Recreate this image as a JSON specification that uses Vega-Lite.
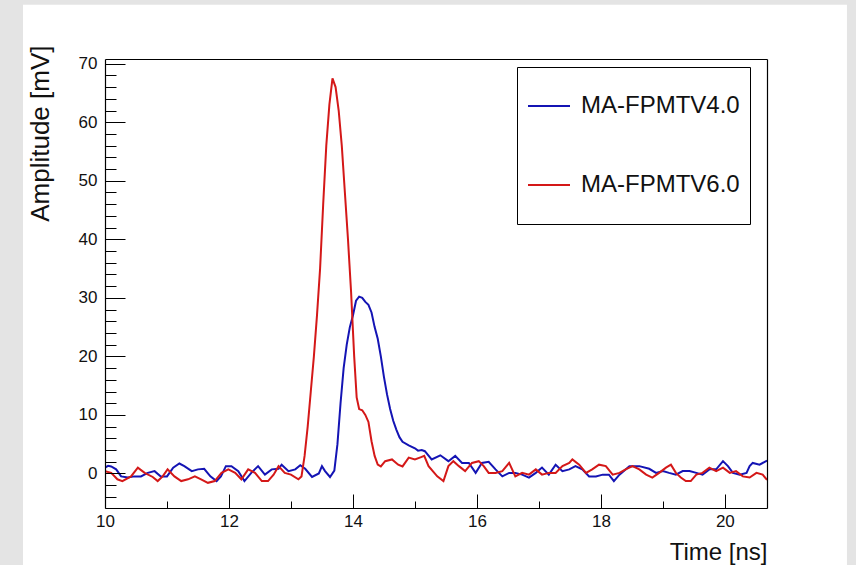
{
  "$schema": "https://vega.github.io/schema/vega-lite/v6.json",
  "width": 662,
  "height": 449,
  "autosize": {"type": "none"},
  "padding": {"left": 105, "top": 59, "right": 89, "bottom": 57},
  "background": "#e4e4e4",
  "config": {
    "font": "Liberation Sans",
    "view": {"stroke": null, "fill": null}
  },
  "resolve": {"axis": {"x": "independent", "y": "independent"}},
  "layer": [
    {
      "data": {"values": [{}]},
      "mark": {"type": "rect", "color": "#ffffff", "clip": false},
      "encoding": {
        "x": {
          "datum": 8.677,
          "type": "quantitative",
          "scale": {"domain": [10, 20.68], "nice": false, "zero": false},
          "axis": {"orient": "top", "title": null, "labels": false, "ticks": false, "grid": false, "domain": true, "domainColor": "#000000", "domainWidth": 1.2, "zindex": 1}
        },
        "x2": {"datum": 21.97},
        "y": {
          "datum": 80.05,
          "type": "quantitative",
          "scale": {"domain": [-5.9, 70.8], "nice": false, "zero": false},
          "axis": {"orient": "right", "title": null, "labels": false, "ticks": false, "grid": false, "domain": true, "domainColor": "#000000", "domainWidth": 1.2, "zindex": 1}
        },
        "y2": {"datum": -20}
      }
    },
    {
      "data": {
        "values": [
          {"t": 10.0, "v": 1.0, "s": "MA-FPMTV4.0"},
          {"t": 10.05, "v": 1.3, "s": "MA-FPMTV4.0"},
          {"t": 10.1, "v": 1.2, "s": "MA-FPMTV4.0"},
          {"t": 10.18, "v": 0.7, "s": "MA-FPMTV4.0"},
          {"t": 10.26, "v": -0.5, "s": "MA-FPMTV4.0"},
          {"t": 10.37, "v": -0.7, "s": "MA-FPMTV4.0"},
          {"t": 10.47, "v": -0.5, "s": "MA-FPMTV4.0"},
          {"t": 10.58, "v": -0.5, "s": "MA-FPMTV4.0"},
          {"t": 10.69, "v": 0.1, "s": "MA-FPMTV4.0"},
          {"t": 10.8, "v": 0.4, "s": "MA-FPMTV4.0"},
          {"t": 10.9, "v": -0.5, "s": "MA-FPMTV4.0"},
          {"t": 11.0, "v": -0.5, "s": "MA-FPMTV4.0"},
          {"t": 11.1, "v": 1.0, "s": "MA-FPMTV4.0"},
          {"t": 11.2, "v": 1.7, "s": "MA-FPMTV4.0"},
          {"t": 11.28, "v": 1.25, "s": "MA-FPMTV4.0"},
          {"t": 11.4, "v": 0.4, "s": "MA-FPMTV4.0"},
          {"t": 11.5, "v": 0.7, "s": "MA-FPMTV4.0"},
          {"t": 11.6, "v": 0.8, "s": "MA-FPMTV4.0"},
          {"t": 11.7, "v": -0.5, "s": "MA-FPMTV4.0"},
          {"t": 11.8, "v": -1.3, "s": "MA-FPMTV4.0"},
          {"t": 11.87, "v": -0.5, "s": "MA-FPMTV4.0"},
          {"t": 11.95, "v": 1.25, "s": "MA-FPMTV4.0"},
          {"t": 12.04, "v": 1.25, "s": "MA-FPMTV4.0"},
          {"t": 12.15, "v": 0.4, "s": "MA-FPMTV4.0"},
          {"t": 12.25, "v": -1.3, "s": "MA-FPMTV4.0"},
          {"t": 12.36, "v": 0.1, "s": "MA-FPMTV4.0"},
          {"t": 12.47, "v": 1.25, "s": "MA-FPMTV4.0"},
          {"t": 12.58, "v": -0.2, "s": "MA-FPMTV4.0"},
          {"t": 12.69, "v": 0.7, "s": "MA-FPMTV4.0"},
          {"t": 12.8, "v": 0.8, "s": "MA-FPMTV4.0"},
          {"t": 12.85, "v": 1.5, "s": "MA-FPMTV4.0"},
          {"t": 12.96, "v": 0.4, "s": "MA-FPMTV4.0"},
          {"t": 13.07, "v": 0.7, "s": "MA-FPMTV4.0"},
          {"t": 13.15, "v": 1.4, "s": "MA-FPMTV4.0"},
          {"t": 13.23, "v": 0.8, "s": "MA-FPMTV4.0"},
          {"t": 13.34, "v": -0.6, "s": "MA-FPMTV4.0"},
          {"t": 13.45, "v": 0.0, "s": "MA-FPMTV4.0"},
          {"t": 13.5, "v": 1.25, "s": "MA-FPMTV4.0"},
          {"t": 13.55, "v": 0.4, "s": "MA-FPMTV4.0"},
          {"t": 13.63, "v": -0.6, "s": "MA-FPMTV4.0"},
          {"t": 13.7, "v": 0.5, "s": "MA-FPMTV4.0"},
          {"t": 13.75, "v": 5, "s": "MA-FPMTV4.0"},
          {"t": 13.8, "v": 12, "s": "MA-FPMTV4.0"},
          {"t": 13.85, "v": 18, "s": "MA-FPMTV4.0"},
          {"t": 13.9, "v": 22, "s": "MA-FPMTV4.0"},
          {"t": 13.95, "v": 25, "s": "MA-FPMTV4.0"},
          {"t": 14.0, "v": 27, "s": "MA-FPMTV4.0"},
          {"t": 14.05, "v": 29.5, "s": "MA-FPMTV4.0"},
          {"t": 14.1, "v": 30.2, "s": "MA-FPMTV4.0"},
          {"t": 14.15, "v": 30, "s": "MA-FPMTV4.0"},
          {"t": 14.2, "v": 29.3, "s": "MA-FPMTV4.0"},
          {"t": 14.25, "v": 28.8, "s": "MA-FPMTV4.0"},
          {"t": 14.3, "v": 27.5, "s": "MA-FPMTV4.0"},
          {"t": 14.35, "v": 25, "s": "MA-FPMTV4.0"},
          {"t": 14.4, "v": 23, "s": "MA-FPMTV4.0"},
          {"t": 14.45, "v": 20, "s": "MA-FPMTV4.0"},
          {"t": 14.5, "v": 16.5, "s": "MA-FPMTV4.0"},
          {"t": 14.55, "v": 13.5, "s": "MA-FPMTV4.0"},
          {"t": 14.6, "v": 11, "s": "MA-FPMTV4.0"},
          {"t": 14.65, "v": 9, "s": "MA-FPMTV4.0"},
          {"t": 14.7, "v": 7.5, "s": "MA-FPMTV4.0"},
          {"t": 14.75, "v": 6.2, "s": "MA-FPMTV4.0"},
          {"t": 14.8, "v": 5.4, "s": "MA-FPMTV4.0"},
          {"t": 14.9, "v": 4.8, "s": "MA-FPMTV4.0"},
          {"t": 15.0, "v": 4.3, "s": "MA-FPMTV4.0"},
          {"t": 15.05, "v": 3.9, "s": "MA-FPMTV4.0"},
          {"t": 15.11, "v": 4.0, "s": "MA-FPMTV4.0"},
          {"t": 15.16, "v": 3.8, "s": "MA-FPMTV4.0"},
          {"t": 15.27, "v": 2.4, "s": "MA-FPMTV4.0"},
          {"t": 15.41, "v": 3.1, "s": "MA-FPMTV4.0"},
          {"t": 15.54, "v": 2.1, "s": "MA-FPMTV4.0"},
          {"t": 15.65, "v": 3.0, "s": "MA-FPMTV4.0"},
          {"t": 15.76, "v": 1.8, "s": "MA-FPMTV4.0"},
          {"t": 15.87, "v": 1.8, "s": "MA-FPMTV4.0"},
          {"t": 15.98, "v": 0.1, "s": "MA-FPMTV4.0"},
          {"t": 16.08, "v": 1.8, "s": "MA-FPMTV4.0"},
          {"t": 16.19, "v": 2.0, "s": "MA-FPMTV4.0"},
          {"t": 16.3, "v": 0.7, "s": "MA-FPMTV4.0"},
          {"t": 16.41, "v": -0.5, "s": "MA-FPMTV4.0"},
          {"t": 16.52, "v": 0.1, "s": "MA-FPMTV4.0"},
          {"t": 16.62, "v": 0.1, "s": "MA-FPMTV4.0"},
          {"t": 16.73, "v": -0.2, "s": "MA-FPMTV4.0"},
          {"t": 16.84, "v": -0.7, "s": "MA-FPMTV4.0"},
          {"t": 16.95, "v": 0.1, "s": "MA-FPMTV4.0"},
          {"t": 17.05, "v": 1.0, "s": "MA-FPMTV4.0"},
          {"t": 17.16, "v": -0.2, "s": "MA-FPMTV4.0"},
          {"t": 17.27, "v": 1.5, "s": "MA-FPMTV4.0"},
          {"t": 17.38, "v": 0.4, "s": "MA-FPMTV4.0"},
          {"t": 17.49, "v": 0.7, "s": "MA-FPMTV4.0"},
          {"t": 17.59, "v": 1.25, "s": "MA-FPMTV4.0"},
          {"t": 17.7, "v": 0.7, "s": "MA-FPMTV4.0"},
          {"t": 17.81, "v": -0.5, "s": "MA-FPMTV4.0"},
          {"t": 17.92, "v": -0.5, "s": "MA-FPMTV4.0"},
          {"t": 18.03, "v": -0.2, "s": "MA-FPMTV4.0"},
          {"t": 18.13, "v": -0.2, "s": "MA-FPMTV4.0"},
          {"t": 18.21, "v": -1.3, "s": "MA-FPMTV4.0"},
          {"t": 18.3, "v": -0.2, "s": "MA-FPMTV4.0"},
          {"t": 18.46, "v": 1.25, "s": "MA-FPMTV4.0"},
          {"t": 18.62, "v": 1.25, "s": "MA-FPMTV4.0"},
          {"t": 18.78, "v": 0.8, "s": "MA-FPMTV4.0"},
          {"t": 18.89, "v": 0.1, "s": "MA-FPMTV4.0"},
          {"t": 19.0, "v": 0.4, "s": "MA-FPMTV4.0"},
          {"t": 19.1, "v": 0.1, "s": "MA-FPMTV4.0"},
          {"t": 19.21, "v": -0.2, "s": "MA-FPMTV4.0"},
          {"t": 19.32, "v": 0.4, "s": "MA-FPMTV4.0"},
          {"t": 19.43, "v": 0.4, "s": "MA-FPMTV4.0"},
          {"t": 19.54, "v": 0.1, "s": "MA-FPMTV4.0"},
          {"t": 19.64, "v": -0.2, "s": "MA-FPMTV4.0"},
          {"t": 19.75, "v": 0.7, "s": "MA-FPMTV4.0"},
          {"t": 19.86, "v": 0.7, "s": "MA-FPMTV4.0"},
          {"t": 19.97, "v": 2.1, "s": "MA-FPMTV4.0"},
          {"t": 20.05, "v": 1.25, "s": "MA-FPMTV4.0"},
          {"t": 20.13, "v": 0.1, "s": "MA-FPMTV4.0"},
          {"t": 20.24, "v": -0.2, "s": "MA-FPMTV4.0"},
          {"t": 20.35, "v": 0.1, "s": "MA-FPMTV4.0"},
          {"t": 20.4, "v": 1.25, "s": "MA-FPMTV4.0"},
          {"t": 20.45, "v": 1.8, "s": "MA-FPMTV4.0"},
          {"t": 20.56, "v": 1.5, "s": "MA-FPMTV4.0"},
          {"t": 20.68, "v": 2.2, "s": "MA-FPMTV4.0"},
          {"t": 10.0, "v": 0.4, "s": "MA-FPMTV6.0"},
          {"t": 10.1, "v": 0.1, "s": "MA-FPMTV6.0"},
          {"t": 10.2, "v": -1.0, "s": "MA-FPMTV6.0"},
          {"t": 10.28, "v": -1.3, "s": "MA-FPMTV6.0"},
          {"t": 10.42, "v": -0.5, "s": "MA-FPMTV6.0"},
          {"t": 10.53, "v": 1.0, "s": "MA-FPMTV6.0"},
          {"t": 10.64, "v": 0.1, "s": "MA-FPMTV6.0"},
          {"t": 10.77, "v": -0.6, "s": "MA-FPMTV6.0"},
          {"t": 10.85, "v": -1.3, "s": "MA-FPMTV6.0"},
          {"t": 10.93, "v": -0.5, "s": "MA-FPMTV6.0"},
          {"t": 11.01, "v": 0.7, "s": "MA-FPMTV6.0"},
          {"t": 11.12, "v": -0.5, "s": "MA-FPMTV6.0"},
          {"t": 11.23, "v": -1.3, "s": "MA-FPMTV6.0"},
          {"t": 11.34, "v": -1.0, "s": "MA-FPMTV6.0"},
          {"t": 11.45, "v": -0.5, "s": "MA-FPMTV6.0"},
          {"t": 11.55, "v": -1.0, "s": "MA-FPMTV6.0"},
          {"t": 11.66, "v": -1.6, "s": "MA-FPMTV6.0"},
          {"t": 11.77, "v": -1.3, "s": "MA-FPMTV6.0"},
          {"t": 11.88, "v": 0.1, "s": "MA-FPMTV6.0"},
          {"t": 11.99, "v": 0.7, "s": "MA-FPMTV6.0"},
          {"t": 12.1, "v": 0.1, "s": "MA-FPMTV6.0"},
          {"t": 12.2, "v": -1.0, "s": "MA-FPMTV6.0"},
          {"t": 12.31, "v": 0.7, "s": "MA-FPMTV6.0"},
          {"t": 12.42, "v": 0.1, "s": "MA-FPMTV6.0"},
          {"t": 12.53, "v": -1.3, "s": "MA-FPMTV6.0"},
          {"t": 12.63, "v": -1.3, "s": "MA-FPMTV6.0"},
          {"t": 12.72, "v": -0.2, "s": "MA-FPMTV6.0"},
          {"t": 12.8, "v": 1.25, "s": "MA-FPMTV6.0"},
          {"t": 12.9, "v": 0.1, "s": "MA-FPMTV6.0"},
          {"t": 13.0, "v": -0.2, "s": "MA-FPMTV6.0"},
          {"t": 13.12, "v": -1.0, "s": "MA-FPMTV6.0"},
          {"t": 13.17, "v": -0.5, "s": "MA-FPMTV6.0"},
          {"t": 13.22, "v": 3, "s": "MA-FPMTV6.0"},
          {"t": 13.27, "v": 8, "s": "MA-FPMTV6.0"},
          {"t": 13.32, "v": 14, "s": "MA-FPMTV6.0"},
          {"t": 13.37, "v": 20, "s": "MA-FPMTV6.0"},
          {"t": 13.42, "v": 27, "s": "MA-FPMTV6.0"},
          {"t": 13.47, "v": 35, "s": "MA-FPMTV6.0"},
          {"t": 13.52, "v": 46, "s": "MA-FPMTV6.0"},
          {"t": 13.57, "v": 56, "s": "MA-FPMTV6.0"},
          {"t": 13.62, "v": 63, "s": "MA-FPMTV6.0"},
          {"t": 13.67, "v": 67.5, "s": "MA-FPMTV6.0"},
          {"t": 13.72, "v": 66, "s": "MA-FPMTV6.0"},
          {"t": 13.77, "v": 62, "s": "MA-FPMTV6.0"},
          {"t": 13.82, "v": 56, "s": "MA-FPMTV6.0"},
          {"t": 13.87, "v": 48, "s": "MA-FPMTV6.0"},
          {"t": 13.92, "v": 40, "s": "MA-FPMTV6.0"},
          {"t": 13.97, "v": 31, "s": "MA-FPMTV6.0"},
          {"t": 14.02, "v": 20, "s": "MA-FPMTV6.0"},
          {"t": 14.06, "v": 13, "s": "MA-FPMTV6.0"},
          {"t": 14.1, "v": 11, "s": "MA-FPMTV6.0"},
          {"t": 14.15, "v": 10.8, "s": "MA-FPMTV6.0"},
          {"t": 14.2, "v": 10, "s": "MA-FPMTV6.0"},
          {"t": 14.25, "v": 8.8, "s": "MA-FPMTV6.0"},
          {"t": 14.3, "v": 5.5, "s": "MA-FPMTV6.0"},
          {"t": 14.35, "v": 3, "s": "MA-FPMTV6.0"},
          {"t": 14.4, "v": 1.5, "s": "MA-FPMTV6.0"},
          {"t": 14.45, "v": 1.2, "s": "MA-FPMTV6.0"},
          {"t": 14.52, "v": 2.1, "s": "MA-FPMTV6.0"},
          {"t": 14.63, "v": 2.4, "s": "MA-FPMTV6.0"},
          {"t": 14.73, "v": 1.5, "s": "MA-FPMTV6.0"},
          {"t": 14.8, "v": 1.2, "s": "MA-FPMTV6.0"},
          {"t": 14.9, "v": 2.7, "s": "MA-FPMTV6.0"},
          {"t": 15.0, "v": 2.4, "s": "MA-FPMTV6.0"},
          {"t": 15.1, "v": 2.8, "s": "MA-FPMTV6.0"},
          {"t": 15.15, "v": 3.0, "s": "MA-FPMTV6.0"},
          {"t": 15.22, "v": 1.25, "s": "MA-FPMTV6.0"},
          {"t": 15.36, "v": -0.5, "s": "MA-FPMTV6.0"},
          {"t": 15.46, "v": -1.3, "s": "MA-FPMTV6.0"},
          {"t": 15.54, "v": 1.25, "s": "MA-FPMTV6.0"},
          {"t": 15.62, "v": 2.1, "s": "MA-FPMTV6.0"},
          {"t": 15.71, "v": 1.25, "s": "MA-FPMTV6.0"},
          {"t": 15.81, "v": 0.4, "s": "MA-FPMTV6.0"},
          {"t": 15.92, "v": 1.8, "s": "MA-FPMTV6.0"},
          {"t": 16.03, "v": 2.1, "s": "MA-FPMTV6.0"},
          {"t": 16.11, "v": 1.25, "s": "MA-FPMTV6.0"},
          {"t": 16.19, "v": 0.1, "s": "MA-FPMTV6.0"},
          {"t": 16.3, "v": 0.1, "s": "MA-FPMTV6.0"},
          {"t": 16.41, "v": 0.4, "s": "MA-FPMTV6.0"},
          {"t": 16.52, "v": 1.8, "s": "MA-FPMTV6.0"},
          {"t": 16.62, "v": -0.5, "s": "MA-FPMTV6.0"},
          {"t": 16.73, "v": 0.1, "s": "MA-FPMTV6.0"},
          {"t": 16.84, "v": -0.2, "s": "MA-FPMTV6.0"},
          {"t": 16.95, "v": 0.7, "s": "MA-FPMTV6.0"},
          {"t": 17.05, "v": -0.2, "s": "MA-FPMTV6.0"},
          {"t": 17.16, "v": 0.1, "s": "MA-FPMTV6.0"},
          {"t": 17.27, "v": 0.1, "s": "MA-FPMTV6.0"},
          {"t": 17.38, "v": 1.25, "s": "MA-FPMTV6.0"},
          {"t": 17.49, "v": 1.8, "s": "MA-FPMTV6.0"},
          {"t": 17.54, "v": 2.4, "s": "MA-FPMTV6.0"},
          {"t": 17.65, "v": 1.5, "s": "MA-FPMTV6.0"},
          {"t": 17.76, "v": 0.1, "s": "MA-FPMTV6.0"},
          {"t": 17.86, "v": 0.7, "s": "MA-FPMTV6.0"},
          {"t": 17.97, "v": 1.5, "s": "MA-FPMTV6.0"},
          {"t": 18.08, "v": 1.25, "s": "MA-FPMTV6.0"},
          {"t": 18.19, "v": -0.2, "s": "MA-FPMTV6.0"},
          {"t": 18.3, "v": 0.1, "s": "MA-FPMTV6.0"},
          {"t": 18.4, "v": 0.7, "s": "MA-FPMTV6.0"},
          {"t": 18.51, "v": 1.25, "s": "MA-FPMTV6.0"},
          {"t": 18.62, "v": 0.7, "s": "MA-FPMTV6.0"},
          {"t": 18.73, "v": -0.2, "s": "MA-FPMTV6.0"},
          {"t": 18.83, "v": -0.7, "s": "MA-FPMTV6.0"},
          {"t": 18.94, "v": 0.1, "s": "MA-FPMTV6.0"},
          {"t": 19.05, "v": 1.0, "s": "MA-FPMTV6.0"},
          {"t": 19.13, "v": 1.5, "s": "MA-FPMTV6.0"},
          {"t": 19.21, "v": 0.1, "s": "MA-FPMTV6.0"},
          {"t": 19.29, "v": -0.7, "s": "MA-FPMTV6.0"},
          {"t": 19.37, "v": -1.3, "s": "MA-FPMTV6.0"},
          {"t": 19.45, "v": -1.3, "s": "MA-FPMTV6.0"},
          {"t": 19.54, "v": -0.2, "s": "MA-FPMTV6.0"},
          {"t": 19.64, "v": 0.1, "s": "MA-FPMTV6.0"},
          {"t": 19.75, "v": 1.0, "s": "MA-FPMTV6.0"},
          {"t": 19.86, "v": 0.4, "s": "MA-FPMTV6.0"},
          {"t": 19.97, "v": 1.0, "s": "MA-FPMTV6.0"},
          {"t": 20.08, "v": 0.1, "s": "MA-FPMTV6.0"},
          {"t": 20.18, "v": 0.4, "s": "MA-FPMTV6.0"},
          {"t": 20.29, "v": -0.5, "s": "MA-FPMTV6.0"},
          {"t": 20.4, "v": -0.7, "s": "MA-FPMTV6.0"},
          {"t": 20.51, "v": 0.1, "s": "MA-FPMTV6.0"},
          {"t": 20.61, "v": -0.2, "s": "MA-FPMTV6.0"},
          {"t": 20.68, "v": -1.1, "s": "MA-FPMTV6.0"}
        ]
      },
      "mark": {"type": "line", "strokeWidth": 2, "clip": true},
      "encoding": {
        "x": {
          "field": "t",
          "type": "quantitative",
          "scale": {"domain": [10, 20.68], "nice": false, "zero": false},
          "axis": {
            "orient": "bottom",
            "title": "Time [ns]",
            "format": "d",
            "values": [10, 10.5, 11, 11.5, 12, 12.5, 13, 13.5, 14, 14.5, 15, 15.5, 16, 16.5, 17, 17.5, 18, 18.5, 19, 19.5, 20, 20.5],
            "labelExpr": "datum.value % 2 === 0 ? datum.label : ''",
            "tickSize": {"condition": {"test": "datum.value % 2 === 0", "value": -14}, "value": -7},
            "tickColor": "#000000",
            "tickWidth": 1,
            "labelPadding": 19,
            "labelFontSize": 17,
            "labelColor": "#111111",
            "labelFlush": false,
            "labelOverlap": false,
            "domain": true,
            "domainColor": "#000000",
            "domainWidth": 1.2,
            "grid": false,
            "zindex": 1,
            "titleFontSize": 24,
            "titleFontWeight": "normal",
            "titleColor": "#111111",
            "titleAnchor": "end",
            "titleBaseline": "alphabetic",
            "titleY": 51
          }
        },
        "y": {
          "field": "v",
          "type": "quantitative",
          "scale": {"domain": [-5.9, 70.8], "nice": false, "zero": false},
          "axis": {
            "orient": "left",
            "title": "Amplitude [mV]",
            "values": [-4, -2, 0, 2, 4, 6, 8, 10, 12, 14, 16, 18, 20, 22, 24, 26, 28, 30, 32, 34, 36, 38, 40, 42, 44, 46, 48, 50, 52, 54, 56, 58, 60, 62, 64, 66, 68, 70],
            "labelExpr": "datum.value % 10 === 0 ? datum.label : ''",
            "tickSize": {"condition": {"test": "datum.value % 10 === 0", "value": -20}, "value": -11},
            "tickColor": "#000000",
            "tickWidth": 1,
            "labelPadding": 28,
            "labelFontSize": 17,
            "labelColor": "#111111",
            "labelFlush": false,
            "labelOverlap": false,
            "domain": true,
            "domainColor": "#000000",
            "domainWidth": 1.2,
            "grid": false,
            "zindex": 1,
            "titleFontSize": 26,
            "titleFontWeight": "normal",
            "titleColor": "#111111",
            "titleAnchor": "end",
            "titleBaseline": "bottom",
            "titleX": -52,
            "titleY": -14
          }
        },
        "color": {
          "field": "s",
          "type": "nominal",
          "scale": {"domain": ["MA-FPMTV4.0", "MA-FPMTV6.0"], "range": ["#1414b4", "#d41818"]},
          "legend": {
            "title": null,
            "orient": "none",
            "legendX": 412,
            "legendY": 8,
            "strokeColor": "#000000",
            "fillColor": "#ffffff",
            "padding": 10,
            "clipHeight": 58,
            "rowPadding": 21,
            "symbolType": "stroke",
            "symbolSize": 1764,
            "symbolStrokeWidth": 2,
            "labelOffset": 10,
            "labelFontSize": 24,
            "labelColor": "#111111",
            "labelLimit": 300
          }
        }
      }
    }
  ]
}
